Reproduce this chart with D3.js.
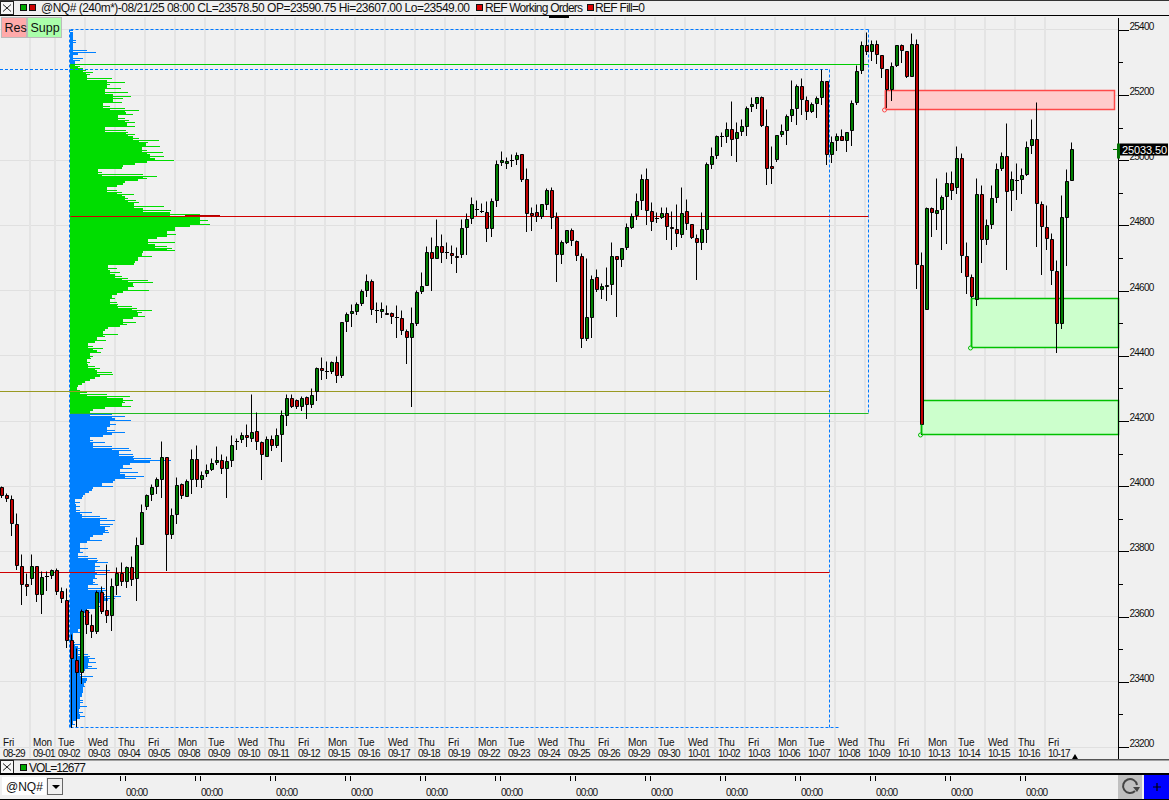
<!DOCTYPE html>
<html><head><meta charset="utf-8">
<style>html,body{margin:0;padding:0;background:#f0f0f0;overflow:hidden}svg{display:block}text{font-family:"Liberation Sans",Arial,sans-serif;fill:#111}</style>
<script src="https://cdnjs.cloudflare.com/ajax/libs/d3/7.9.0/d3.min.js"></script>
</head><body><svg id="c" width="1169" height="800"></svg>
<script>
const open=[23996,23970,23959,23883,23755,23698,23718,23755,23668,23723,23727,23740,23676,23649,23526,23465,23428,23618,23572,23553,23674,23618,23603,23695,23732,23707,23750,23717,23821,23938,23975,23999,24022,24088,23852,23913,24005,23967,24021,24082,24021,24039,24051,24073,24079,24054,24079,24136,24143,24156,24145,24168,24134,24091,24143,24125,24159,24217,24270,24264,24245,24273,24251,24289,24362,24353,24353,24378,24341,24506,24531,24537,24559,24599,24627,24538,24537,24531,24531,24519,24513,24476,24457,24500,24596,24617,24718,24700,24734,24718,24715,24706,24712,24795,24820,24848,24844,24841,24789,24875,24992,24991,24998,25001,25016,24942,24835,24841,24826,24863,24906,24823,24712,24749,24783,24752,24706,24454,24519,24641,24602,24614,24620,24706,24694,24731,24795,24829,24875,24942,24844,24820,24823,24838,24795,24786,24771,24844,24804,24761,24749,24786,24986,25013,25074,25074,25095,25067,25089,25104,25165,25174,25193,25104,24981,25003,25080,25092,25138,25159,25227,25184,25150,25174,25193,25242,25018,25061,25073,25061,25092,25178,25276,25352,25334,25356,25322,25279,25217,25291,25352,25334,25257,25356,24678,24543,24853,24838,24850,24890,24927,24917,25006,24706,24639,24574,24895,24758,24804,24887,24975,25012,24908,24939,24942,24957,25046,25062,24865,24795,24758,24660,24500,24825,24939];
const high=[23998,23978,23973,23917,23790,23732,23790,23755,23739,23739,23744,23747,23688,23686,23546,23502,23621,23621,23605,23680,23692,23760,23718,23750,23766,23753,23784,23843,23945,23975,24005,24027,24138,24088,23932,24027,24008,24020,24113,24125,24045,24068,24085,24123,24098,24092,24156,24146,24165,24189,24282,24226,24136,24153,24156,24177,24233,24282,24282,24267,24276,24276,24300,24365,24396,24384,24384,24399,24503,24534,24556,24562,24602,24649,24633,24562,24562,24553,24534,24553,24540,24482,24549,24599,24654,24735,24764,24817,24771,24749,24737,24731,24817,24835,24887,24875,24866,24872,24881,25000,25028,25007,25016,25025,25016,24976,24856,24863,24863,24912,24915,24841,24755,24783,24792,24755,24715,24697,24647,24665,24623,24672,24749,24706,24728,24807,24838,24899,24955,24976,24869,24841,24856,24856,24844,24863,24915,24878,24804,24771,24841,24992,25038,25077,25085,25116,25181,25116,25125,25165,25193,25193,25196,25156,25043,25076,25110,25141,25243,25233,25251,25196,25178,25196,25279,25242,25073,25083,25095,25086,25184,25291,25365,25392,25368,25368,25322,25279,25300,25352,25356,25334,25389,25371,24718,24856,24856,24945,24893,24961,24964,25043,25022,24749,24650,24945,24922,24817,24921,24991,25024,25112,24964,24991,24975,25058,25126,25178,24872,24860,24774,24691,24891,24972,25055];
const low=[23965,23952,23850,23744,23637,23665,23700,23646,23610,23680,23716,23667,23644,23504,23261,23263,23394,23547,23536,23547,23608,23583,23556,23668,23696,23688,23694,23648,23821,23930,23956,23979,23964,23742,23841,23887,23961,23967,23979,24000,23996,24029,24049,24068,24038,23964,24061,24113,24135,24121,24137,24113,24022,24091,24108,24118,24075,24186,24240,24239,24232,24207,24242,24263,24326,24330,24347,24318,24333,24474,24489,24526,24554,24583,24526,24503,24518,24526,24500,24456,24464,24375,24244,24494,24590,24617,24600,24697,24686,24697,24683,24656,24703,24712,24807,24829,24841,24751,24766,24858,24985,24975,24981,24988,24936,24782,24785,24812,24820,24848,24789,24628,24683,24743,24739,24691,24424,24448,24457,24596,24576,24570,24587,24522,24675,24725,24789,24817,24850,24802,24783,24810,24820,24757,24725,24734,24764,24786,24761,24634,24725,24749,24976,25004,25042,25055,25015,24996,25076,25076,25150,25159,25104,24926,24929,24996,25073,25049,25119,25110,25141,25125,25147,25132,25171,24987,24994,25030,25061,25027,25046,25171,25267,25325,25307,25297,25254,25162,25184,25288,25300,25254,25257,24607,24159,24543,24766,24787,24725,24744,24878,24899,24654,24590,24578,24555,24686,24742,24790,24869,24968,24664,24845,24878,24897,24954,25021,24734,24648,24725,24620,24410,24484,24678,24939];
const close=[23970,23961,23886,23758,23700,23693,23755,23668,23721,23723,23740,23678,23654,23528,23470,23428,23615,23575,23553,23674,23615,23603,23692,23732,23707,23750,23714,23818,23919,23971,23996,24021,24088,23852,23910,24002,23970,24014,24082,24021,24033,24048,24070,24079,24054,24076,24125,24138,24156,24150,24165,24137,24097,24143,24125,24156,24217,24270,24245,24245,24270,24251,24279,24362,24356,24353,24378,24341,24503,24528,24537,24556,24596,24627,24541,24538,24541,24528,24520,24516,24479,24457,24500,24593,24614,24718,24700,24734,24718,24718,24709,24703,24792,24817,24863,24848,24844,24789,24872,24988,24998,24995,24998,25013,24942,24838,24830,24826,24863,24906,24823,24712,24749,24783,24755,24709,24454,24516,24635,24602,24614,24617,24706,24694,24728,24795,24826,24872,24942,24847,24813,24820,24835,24798,24789,24774,24838,24807,24764,24749,24786,24986,25010,25074,25074,25095,25064,25086,25104,25159,25171,25193,25107,24975,24975,25076,25089,25135,25156,25227,25187,25150,25171,25190,25242,25018,25055,25073,25061,25086,25174,25273,25352,25334,25356,25325,25282,25217,25288,25352,25337,25257,25356,24681,24190,24853,24841,24847,24887,24927,24908,25006,24709,24642,24581,24895,24758,24801,24884,24973,25012,24905,24942,24939,24954,25040,25062,24868,24798,24761,24663,24500,24823,24936,25033.5];

const dayNames=["Fri","Mon","Tue","Wed","Thu","Fri","Mon","Tue","Wed","Thu","Fri","Mon","Tue","Wed","Thu","Fri","Mon","Tue","Wed","Thu","Fri","Mon","Tue","Wed","Thu","Fri","Mon","Tue","Wed","Thu","Fri","Mon","Tue","Wed","Thu","Fri"];
const dayDates=["08-29","09-01","09-02","09-03","09-04","09-05","09-08","09-09","09-10","09-11","09-12","09-15","09-16","09-17","09-18","09-19","09-22","09-23","09-24","09-25","09-26","09-29","09-30","10-01","10-02","10-03","10-06","10-07","10-08","10-09","10-10","10-13","10-14","10-15","10-16","10-17"];
const dayStartBar=[0,6,11,17,23,29,35,41,47,53,59,65,71,77,83,89,95,101,107,113,119,125,131,137,143,149,155,161,167,173,179,185,191,197,203,209];
const priceLabels=[23200,23400,23600,23800,24000,24200,24400,24600,24800,25000,25200,25400];
const minorPrices=[23300,23500,23700,23900,24100,24300,24500,24700,24900,25100,25300];
const timeTickBars=[24,39,54,69,84,99,114,129,144,159,174,189,204];

const profileBlueTop=[3,3,3,3,3,6,6,3,3,3,17,26,8,3,13,10,5];
const profileGreen=[8,10,13,16,23,20,17,42,37,55,40,37,51,35,58,43,61,53,43,52,33,40,55,69,56,63,48,55,59,65,57,65,35,56,58,65,63,69,89,78,76,90,72,77,93,80,94,85,104,77,65,53,52,28,32,73,87,77,68,55,53,47,37,47,52,64,55,58,66,69,64,94,73,101,100,130,150,130,138,130,140,120,105,105,97,106,97,87,78,105,85,97,102,105,
73,72,82,68,68,65,64,38,47,40,50,45,52,58,78,83,63,64,58,79,53,47,42,45,40,47,48,62,67,82,72,68,75,63,53,66,57,50,38,35,33,48,35,27,36,25,18,23,33,27,31,20,23,21,17,20,18,25,30,27,42,43,30,25,20,15,12,8,7,10,17,37,60,53,63,55,52,61,35,23,20];
const profileBlueBottom=[42,55,45,61,40,46,40,37,45,55,42,33,20,23,35,23,42,59,61,49,63,64,81,101,80,60,53,62,50,68,55,74,66,45,
43,32,43,23,22,19,15,13,12,5,10,6,10,6,10,22,12,30,37,45,30,43,40,35,38,39,33,23,20,32,17,10,10,18,10,13,8,18,27,28,38,25,30,25,40,27,37,25,27,23,25,28,18,35,37,33,35,51,45,38,32,27,32,25,17,20,12,18,13,13,12,10,12,10,8,10,3,3,3,3,5,10,8,12,10,8,18,20,25,19,26,18,22,27,15,10,12,23,17,17,16,14,15,13,13,13,12,12,10,13,13,10,17,10,9,13,10,15,10,7,3,5,2];
const profileTopPrice=25400, profileBottomPrice=23258, pocSpike=[115,150];

const levels={top:25400,high2:25279,greenHi:25294,poc:24828,red2:23735,olive:24291,green2:24222,bottom:23260};
const barsAt={profile:13.7,dashA:165.5,dashB:173.3,bottomEnd:167.3};
const zones=[
 {from:176.7,to:222.7,hi:25214,lo:25156,fill:"#ffcccc",stroke:"#ff4a4a"},
 {from:193.8,to:223.4,hi:24575,lo:24424,fill:"#ccffcc",stroke:"#00c000"},
 {from:183.8,to:223.4,hi:24263,lo:24159,fill:"#ccffcc",stroke:"#00c000"}];
const lastPrice=25033.5;

const svg=d3.select("#c");
const y=d3.scaleLinear().domain([23200,25400]).range([747,29.8]);
const xc=d3.scaleLinear().domain([0,214]).range([0,1070]); // left edge of each bar slot
const xV=d3.scaleLinear().domain([0,150]).range([70,220]);
const Y=v=>Math.floor(y(v))+.5;
const barIdx=d3.range(open.length);

// grid
const grid=svg.append("g");
grid.selectAll(".h").data(priceLabels).join("line").attr("x1",0).attr("x2",1118).attr("y1",d=>Y(d)).attr("y2",d=>Y(d)).attr("stroke","#e0e0e0");
grid.selectAll(".v").data(dayStartBar.slice(1)).join("rect").attr("x",d=>xc(d)-1).attr("width",2).attr("y",17).attr("height",741).attr("fill","#e4e4e4");

// zones
const zg=svg.append("g");
zones.forEach(z=>{
  const x0=Math.round(xc(z.from)+1.67)+.5,x1=Math.round(xc(z.to)+1.67)-.5;
  zg.append("rect").attr("x",x0).attr("y",Y(z.hi)).attr("width",x1-x0).attr("height",Y(z.lo)-Y(z.hi)).attr("fill",z.fill).attr("stroke",z.stroke).attr("stroke-width",1.5);
  zg.append("circle").attr("cx",x0-1).attr("cy",Y(z.lo)+.5).attr("r",2).attr("fill","#f0f0f0").attr("stroke",z.stroke);
});

// profile
const rows=[...profileBlueTop.map(v=>({v,c:"#0080ff"})),...profileGreen.map(v=>({v,c:"#00dd00"})),...profileBlueBottom.map(v=>({v,c:"#0080ff"}))];
const pY=d3.scaleBand().domain(d3.range(rows.length)).range([y(profileTopPrice),y(profileBottomPrice)]);
const pg=svg.append("g").attr("shape-rendering","crispEdges");
rows.forEach((r,i)=>{
  const ry=pY(i),h=pY.bandwidth(),nxt=i+1<rows.length?rows[i+1].v:0,prv=i>0?rows[i-1].v:0;
  pg.append("rect").attr("x",xV(0)).attr("y",ry).attr("width",xV(r.v)-xV(0)).attr("height",h/2).attr("fill",r.c);
  pg.append("rect").attr("x",xV(0)).attr("y",ry+h/2).attr("width",xV(Math.min(r.v,nxt,prv))-xV(0)).attr("height",h/2).attr("fill",r.c);
});
pg.append("rect").attr("x",xV(pocSpike[0])).attr("width",xV(pocSpike[1])-xV(pocSpike[0])).attr("y",Y(levels.poc)-1.5).attr("height",2).attr("fill","#b00000");

// level lines
const L=(x1,x2,v,c,dash)=>svg.append("line").attr("x1",x1).attr("x2",x2).attr("y1",Y(v)).attr("y2",Y(v)).attr("stroke",c).attr("stroke-dasharray",dash||null);
const bx=b=>Math.round(xc(b)+1.67)+.5;
const V=(x,v1,v2,c,dash)=>svg.append("line").attr("x1",x).attr("x2",x).attr("y1",Y(v1)).attr("y2",Y(v2)).attr("stroke",c).attr("stroke-dasharray",dash||null);
const blue="#0078ff";
L(bx(barsAt.profile),bx(barsAt.dashB),levels.top,blue,"3,2");
L(0,bx(barsAt.dashA),levels.high2,blue,"3,2");
L(bx(barsAt.profile),bx(barsAt.bottomEnd),levels.bottom,blue,"3,2");
V(bx(barsAt.profile)-1,levels.top,levels.bottom,blue,"3,2");
V(bx(barsAt.dashA),levels.high2,levels.bottom,blue,"3,2");
V(bx(barsAt.dashB),levels.top,levels.green2,blue,"3,2");
L(bx(barsAt.profile),bx(barsAt.dashB),levels.greenHi,"#00cc00");
L(bx(barsAt.profile),bx(barsAt.dashB),levels.poc,"#d00000");
L(0,bx(barsAt.dashA),levels.red2,"#d00000");
L(0,bx(barsAt.dashA),levels.olive,"#999922");
L(bx(barsAt.profile),bx(barsAt.dashB),levels.green2,"#22bb22");

// candles
const cg=svg.append("g");
cg.selectAll(".w").data(barIdx).join("line").attr("x1",i=>xc(i)+1.5).attr("x2",i=>xc(i)+1.5).attr("y1",i=>Y(high[i])).attr("y2",i=>Y(low[i])+.5).attr("stroke","#000");
cg.selectAll(".b").data(barIdx).join("path").attr("d",i=>{
  const t=Y(Math.max(open[i],close[i])),b=Y(Math.min(open[i],close[i])),l=xc(i)+.5,r=xc(i)+3.5;
  return b-t<1?`M${l-.5} ${t}H${r+.5}`:`M${l} ${t}H${r}V${b}H${l}Z`;
}).attr("fill",i=>close[i]>=open[i]?"#008000":"#c00000").attr("stroke","#000");
// zone pivot stems over the bars
zones.forEach(z=>{const x0=Math.round(xc(z.from)+1.67)+.5;
  svg.append("line").attr("x1",x0).attr("x2",x0).attr("y1",Y(z.hi)).attr("y2",Y(z.lo)).attr("stroke",z.stroke).attr("stroke-width",1.5).attr("opacity",z.from>183&&z.from<184?0:1);
});
{const z=zones[2],x0=Math.round(xc(z.from)+1.67)+.5;svg.append("line").attr("x1",x0).attr("x2",x0).attr("y1",Y(24190)).attr("y2",Y(z.lo)).attr("stroke",z.stroke).attr("stroke-width",1.5);}

// right axis
const axisFont=s=>s.attr("font-size","10px").attr("letter-spacing","-.75px");
const ax=svg.append("g").attr("transform","translate(1118.5,0)").attr("shape-rendering","crispEdges");
ax.call(d3.axisRight(y).tickValues(priceLabels).tickSize(10).tickPadding(1).tickFormat(d3.format("d")));
ax.select(".domain").attr("d","M0,18V759").attr("stroke","#000");
ax.selectAll("line").attr("stroke","#000");
ax.selectAll("text").attr("dy","0").attr("y",0).attr("transform","translate(0,-.5)").call(axisFont).style("font-family",'"Liberation Sans",Arial,sans-serif').attr("fill","#111");
const ax2=svg.append("g").attr("transform","translate(1118.5,0)").attr("shape-rendering","crispEdges");
ax2.call(d3.axisRight(y).tickValues(minorPrices).tickSize(4).tickFormat(""));
ax2.select(".domain").remove();ax2.selectAll("line").attr("stroke","#000");

// date labels
const lab=svg.append("g");
lab.selectAll(".a").data(dayNames).join("text").attr("x",(d,i)=>xc(dayStartBar[i])+3).attr("y",746).attr("font-size","10px").attr("letter-spacing","-.2px").text(d=>d);
lab.selectAll(".b").data(dayDates).join("text").attr("x",(d,i)=>xc(dayStartBar[i])+3).attr("y",757).call(axisFont).text(d=>d);
svg.append("path").attr("d","M1072 759L1075 754L1078 759Z").attr("fill","#000");

// last price flag
svg.append("rect").attr("x",1120).attr("y",Y(lastPrice)-6).attr("width",48).attr("height",12).attr("fill","#000");
svg.append("text").attr("x",1122).attr("y",Y(lastPrice)+4).attr("font-size","11px").attr("letter-spacing","-.1px").style("fill","#fff").text(d3.format(".2f")(lastPrice));
svg.append("rect").attr("x",1117).attr("y",Y(lastPrice)-6).attr("width",3).attr("height",15).attr("fill","#007000");
svg.append("line").attr("x1",1113).attr("x2",1118).attr("y1",Y(lastPrice)).attr("y2",Y(lastPrice)).attr("stroke","#007000");

// top strip
svg.append("rect").attr("x",0).attr("y",0).attr("width",1169).attr("height",16).attr("fill","#f0f0f0");
svg.append("line").attr("x1",0).attr("x2",1169).attr("y1",.5).attr("y2",.5).attr("stroke","#333");
svg.append("line").attr("x1",0).attr("x2",1169).attr("y1",15.5).attr("y2",15.5).attr("stroke","#000");
const xBox=(yy)=>{
  svg.append("rect").attr("x",.5).attr("y",yy).attr("width",13).attr("height",13).attr("fill","#f6f6f6").attr("stroke","#222");
  svg.append("path").attr("d",`M3 ${yy+3}L11 ${yy+10}M11 ${yy+3}L3 ${yy+10}`).attr("stroke","#222").attr("fill","none");
};
xBox(1.5);
const sq=(x,yy,c)=>svg.append("rect").attr("x",x+.5).attr("y",yy+.5).attr("width",6).attr("height",6).attr("fill",c).attr("stroke","#111");
sq(20,4,"#00aa00");sq(29,4,"#cc0000");
svg.append("text").attr("x",41).attr("y",12).attr("font-size","12px").attr("textLength",429).attr("lengthAdjust","spacing").text("@NQ# (240m*)-08/21/25 08:00 CL=23578.50 OP=23590.75 Hi=23607.00 Lo=23549.00");
sq(476,4,"#dd0000");
svg.append("text").attr("x",485).attr("y",12).attr("font-size","12px").attr("textLength",98).text("REF Working Orders");
sq(587,4,"#dd0000");
svg.append("text").attr("x",595).attr("y",12).attr("font-size","12px").attr("textLength",50).text("REF Fill=0");
svg.append("rect").attr("x",549).attr("y",16).attr("width",20).attr("height",2).attr("fill","#000");

// Res / Supp
svg.append("rect").attr("x",1.5).attr("y",17.5).attr("width",25).attr("height",20).attr("fill","#ffaaaa").attr("stroke","#bbb");
svg.append("rect").attr("x",27.5).attr("y",17.5).attr("width",34).attr("height",20).attr("fill","#aaffaa").attr("stroke","#bbb");
svg.append("text").attr("x",4.5).attr("y",32).attr("font-size","12.5px").text("Res");
svg.append("text").attr("x",30.5).attr("y",32).attr("font-size","12.5px").text("Supp");

// bottom strips
svg.append("rect").attr("x",0).attr("y",759).attr("width",1169).attr("height",41).attr("fill","#f0f0f0");
svg.append("rect").attr("x",0).attr("y",759).attr("width",1169).attr("height",1.5).attr("fill","#555");
xBox(760.5);
sq(20,764,"#00aa00");
svg.append("text").attr("x",29).attr("y",772).attr("font-size","12px").attr("textLength",57).text("VOL=12677");
svg.append("rect").attr("x",0).attr("y",773).attr("width",1169).attr("height",2).attr("fill","#000");
svg.append("rect").attr("x",0).attr("y",799).attr("width",1169).attr("height",1).attr("fill","#000");
svg.append("rect").attr("x",2).attr("y",777).attr("width",44).attr("height",18).attr("fill","#fff");
svg.append("text").attr("x",6).attr("y",791).attr("font-size","12px").text("@NQ#");
svg.append("rect").attr("x",47.5).attr("y",778.5).attr("width",15).attr("height",16).attr("fill","#f0f0f0").attr("stroke","#666");
svg.append("path").attr("d","M52 785H60L56 789Z").attr("fill","#000");
const tg=svg.append("g");
timeTickBars.forEach(b=>{
  [b,b+1].forEach(k=>tg.append("line").attr("x1",xc(k)+.5).attr("x2",xc(k)+.5).attr("y1",776).attr("y2",781).attr("stroke","#000"));
  tg.append("text").attr("x",xc(b+3)+1.67).attr("y",796).attr("text-anchor","middle").call(axisFont).text("00:00");
});
svg.append("rect").attr("x",1118).attr("y",775).attr("width",24).attr("height",24).attr("fill","#c0c0c0");
svg.append("path").attr("d","M1135 791A7 7 0 1 1 1137 785").attr("fill","none").attr("stroke","#444").attr("stroke-width",2);
svg.append("path").attr("d","M1133 787L1140 787L1137 792Z").attr("fill","#444");
svg.append("rect").attr("x",1144).attr("y",775).attr("width",25).attr("height",24).attr("fill","#0000ff");
svg.append("path").attr("d","M1153 787H1161M1157 783V791").attr("stroke","#000").attr("stroke-width",1.2);
</script></body></html>
